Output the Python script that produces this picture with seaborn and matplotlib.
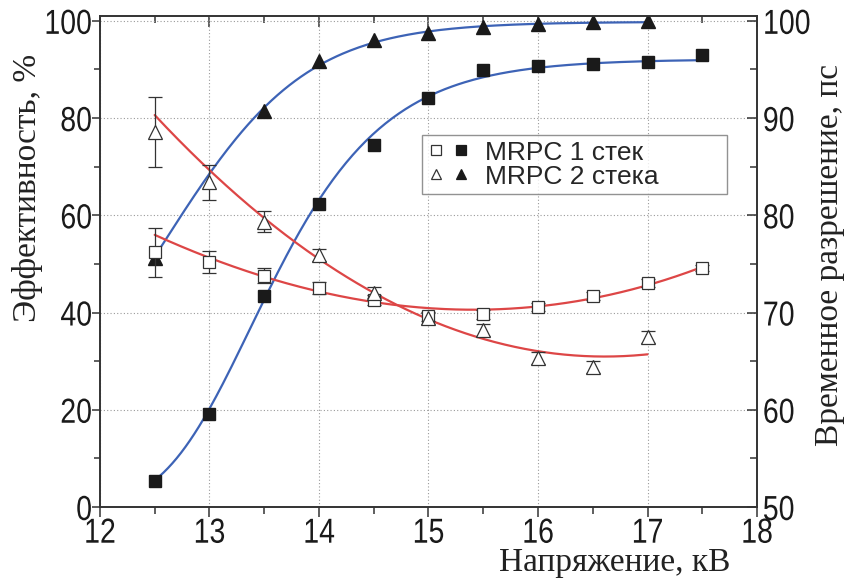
import numpy as np
import matplotlib
matplotlib.use("Agg")
import matplotlib.pyplot as plt
import seaborn as sns
from matplotlib.lines import Line2D
from matplotlib.legend_handler import HandlerTuple
from matplotlib.ticker import MultipleLocator
from matplotlib.patheffects import AbstractPathEffect
from matplotlib.transforms import Affine2D

# ---------------- data ----------------
voltage_1 = [12.5, 13.0, 13.5, 14.0, 14.5, 15.0, 15.5, 16.0, 16.5, 17.0, 17.5]
eff_1 = [5.4, 19.1, 43.3, 62.3, 74.5, 84.1, 89.8, 90.8, 91.2, 91.6, 92.9]
tres_1 = [76.2, 75.2, 73.8, 72.5, 71.3, 69.6, 69.8, 70.6, 71.7, 73.0, 74.6]
tres_1_err = [2.5, 1.1, 0.8, 0.6, 0.5, 0.5, 0.5, 0.4, 0.4, 0.4, 0.3]

voltage_2 = [12.5, 13.5, 14.0, 14.5, 15.0, 15.5, 16.0, 16.5, 17.0]
eff_2 = [51.2, 81.5, 91.8, 96.0, 97.4, 98.7, 99.4, 99.8, 99.9]

voltage_2t = [12.5, 13.0, 13.5, 14.0, 14.5, 15.0, 15.5, 16.0, 16.5, 17.0]
tres_2 = [88.6, 83.4, 79.35, 75.9, 72.05, 69.4, 68.2, 65.3, 64.4, 67.5]
tres_2_err = [3.6, 1.8, 1.1, 0.6, 0.6, 0.6, 0.6, 0.6, 0.6, 0.6]

# fitted-curve readings from the reference (same voltages as above)
eff_fit_1 = [5.5, 19.3, 42.6, 62.1, 76.2, 84.8, 88.9, 90.4, 91.3, 91.8, 92.1]
eff_fit_2 = [51.8, 68.7, 81.7, 91.0, 95.9, 97.5, 98.7, 99.3, 99.65, 99.8]
tres_fit_1 = [78.0, 75.75, 73.35, 72.25, 71.3, 70.4, 70.27, 70.55, 71.5, 72.8, 74.7]
tres_fit_2 = [90.3, 84.7, 79.6, 75.6, 72.0, 69.3, 67.3, 66.0, 65.5, 65.7]

x_ticks = [12, 13, 14, 15, 16, 17, 18]
eff_ticks = [0, 20, 40, 60, 80, 100]
tres_ticks = [50, 60, 70, 80, 90, 100]
legend_labels = ["MRPC 1 стек", "MRPC 2 стека"]


# ---------------- smooth curves through the readings ----------------
def richards_fit(x, y):
    x = np.asarray(x, float); y = np.asarray(y, float)
    A = np.linspace(y.max() - 0.5, y.max() + 2.0, 11)[:, None, None, None]
    x0 = np.linspace(12.0, 15.5, 71)[None, :, None, None]
    k = np.linspace(0.5, 6.0, 56)[None, None, :, None]
    nu = np.geomspace(0.1, 5.0, 20)[None, None, None, :]
    sse = np.zeros((11, 71, 56, 20))
    for xi, yi in zip(x, y):
        sse += (A / (1 + np.exp(-k * (xi - x0))) ** (1 / nu) - yi) ** 2
    i = np.unravel_index(np.argmin(sse), sse.shape)
    return (A.ravel()[i[0]], x0.ravel()[i[1]], k.ravel()[i[2]], nu.ravel()[i[3]])


def richards(x, p):
    A, x0, k, nu = p
    return A / (1 + np.exp(-k * (x - x0))) ** (1 / nu)


voltage_2f = voltage_2t
pe1 = richards_fit(voltage_1, eff_fit_1)
pe2 = richards_fit(voltage_2f, eff_fit_2)
pt1 = np.polyfit(voltage_1, tres_fit_1, 3)
pt2 = np.polyfit(voltage_2f, tres_fit_2, 3)
xs1 = np.linspace(min(voltage_1), max(voltage_1), 250)
xs2 = np.linspace(min(voltage_2f), max(voltage_2f), 250)


# narrow (condensed) rendering for tick labels
class Narrow(AbstractPathEffect):
    def __init__(self, sx=0.82, anchor="center"):
        super().__init__()
        self.sx = sx
        self.anchor = anchor

    def draw_path(self, renderer, gc, tpath, affine, rgbFace=None):
        ext = tpath.get_extents(affine)
        cx = {"left": ext.x0, "right": ext.x1,
              "center": 0.5 * (ext.x0 + ext.x1)}[self.anchor]
        t = affine + Affine2D().translate(-cx, 0).scale(self.sx, 1).translate(cx, 0)
        renderer.draw_path(gc, tpath, t, rgbFace)


# ---------------- style ----------------
sns.set_style("white")
plt.rcParams["font.family"] = ["Liberation Sans", "DejaVu Sans"]
serif = ["Liberation Serif", "DejaVu Serif"]

BLUE = "#3d63b6"
RED = "#dd4646"
INK = "#1a1a1a"
EDGE = "#333333"

fig = plt.figure(figsize=(8.5, 5.81), dpi=100)
ax = fig.add_axes([0.1176, 0.1274, 0.7730, 0.8451])
ax2 = ax.twinx()

# efficiency (left axis)
sns.lineplot(x=xs1, y=richards(xs1, pe1), ax=ax, color=BLUE, lw=1.6, zorder=2)
sns.lineplot(x=xs2, y=richards(xs2, pe2), ax=ax, color=BLUE, lw=1.6, zorder=2)
ax.plot(voltage_1, eff_1, ls="none", marker="s", ms=8.5, color=INK, zorder=3)
ax.plot(voltage_2, eff_2, ls="none", marker="^", ms=10, color=INK, zorder=3)

# time resolution (right axis)
sns.lineplot(x=xs1, y=np.polyval(pt1, xs1), ax=ax2, color=RED, lw=1.6, zorder=2)
sns.lineplot(x=xs2, y=np.polyval(pt2, xs2), ax=ax2, color=RED, lw=1.6, zorder=2)
ax2.errorbar(voltage_1, tres_1, yerr=tres_1_err, fmt="s", ms=8, mfc="white",
             mec=EDGE, mew=0.9, ecolor=EDGE, elinewidth=0.9, capsize=5,
             capthick=0.9, zorder=4)
ax2.errorbar(voltage_2t, tres_2, yerr=tres_2_err, fmt="^", ms=10, mfc="white",
             mec=EDGE, mew=0.9, ecolor=EDGE, elinewidth=0.9, capsize=5,
             capthick=0.9, zorder=4)

# limits and ticks
ax.set_xlim(12, 18)
ax.set_ylim(0, 101)
ax2.set_ylim(50, 100.5)
ax.set_xticks(x_ticks)
ax.set_yticks(eff_ticks)
ax2.set_yticks(tres_ticks)
ax.xaxis.set_minor_locator(MultipleLocator(0.5))
ax.yaxis.set_minor_locator(MultipleLocator(10))
ax2.yaxis.set_minor_locator(MultipleLocator(5))

ax.grid(True, which="major", ls=(0, (1, 2)), color="#9a9a9a", lw=0.8)
ax.set_axisbelow(True)

for a in (ax, ax2):
    for s in a.spines.values():
        s.set_color(EDGE)
        s.set_linewidth(1.2)

ax.tick_params(axis="x", which="both", bottom=True, top=False, direction="out",
               color=EDGE, width=1.1)
ax.tick_params(axis="x", which="major", length=7, labelsize=25, pad=0)
ax.tick_params(axis="x", which="minor", length=5)
ax.tick_params(axis="y", which="both", left=True, direction="out",
               color=EDGE, width=1.1)
ax.tick_params(axis="y", which="major", length=6, labelsize=25, pad=-0.5)
ax.tick_params(axis="y", which="minor", length=4)
ax2.tick_params(axis="y", which="both", right=True, direction="in",
                color=EDGE, width=1.1)
ax2.tick_params(axis="y", which="major", length=7, labelsize=25, pad=4)
ax2.tick_params(axis="y", which="minor", length=5)

top = ax.secondary_xaxis("top")
top.set_xticks(x_ticks)
top.xaxis.set_minor_locator(MultipleLocator(0.5))
top.tick_params(which="both", direction="in", labeltop=False, color=EDGE, width=1.1)
top.tick_params(which="major", length=8)
top.tick_params(which="minor", length=5)
top.spines["top"].set_visible(False)

ax.set_xlabel("Напряжение, кВ", family=serif, fontsize=24, color="#222222")
ax.set_ylabel("Эффективность, %", family=serif, fontsize=24, color="#222222")
ax2.set_ylabel("Временное разрешение, пс", family=serif, fontsize=24, color="#222222")
ax.xaxis.set_label_coords(0.784, -0.083)
ax.yaxis.set_label_coords(-0.087, 0.65)
ax2.yaxis.set_label_coords(1.088, 0.513)

# legend
mk = dict(ls="none", ms=7.5, mew=0.9)
h1 = (Line2D([], [], marker="s", mfc="white", mec=EDGE, **mk),
      Line2D([], [], marker="s", color=INK, **mk))
h2 = (Line2D([], [], marker="^", mfc="white", mec=EDGE, **mk),
      Line2D([], [], marker="^", color=INK, **mk))
leg = ax.legend([h1, h2], legend_labels,
                handler_map={tuple: HandlerTuple(ndivide=None, pad=0.3)},
                loc="upper left", bbox_to_anchor=(0.49, 0.637, 0.464, 0.12),
                mode="expand", fontsize=19, frameon=True, fancybox=False,
                handlelength=1.6, handletextpad=0.6, borderpad=0.2,
                labelspacing=0.0, borderaxespad=0)
leg.get_frame().set_edgecolor("#777777")
leg.get_frame().set_linewidth(1.0)
leg.set_zorder(10)

fig.canvas.draw()
for lab in ax.get_xticklabels():
    lab.set_color(INK)
    lab.set_path_effects([Narrow(0.82, "center")])
for lab in ax.get_yticklabels():
    lab.set_color(INK)
    lab.set_path_effects([Narrow(0.82, "right")])
for lab in ax2.get_yticklabels():
    lab.set_color(INK)
    lab.set_path_effects([Narrow(0.82, "left")])

fig.savefig("out.png", dpi=100)
